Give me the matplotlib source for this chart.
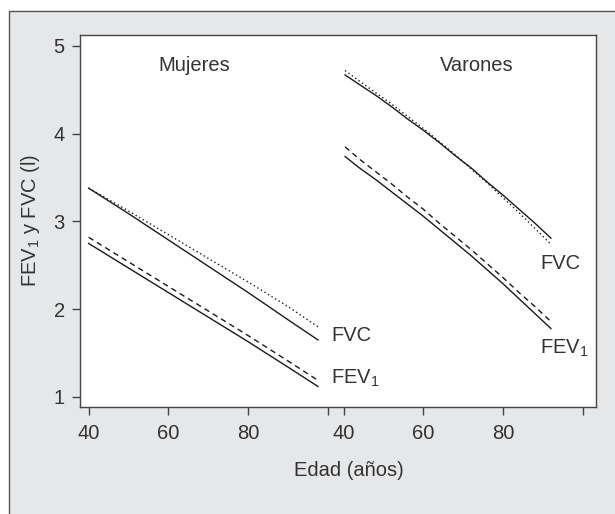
import matplotlib
matplotlib.use("Agg")
import matplotlib.pyplot as plt
from matplotlib.patches import Rectangle

plt.rcParams['font.family'] = ['Liberation Sans', 'DejaVu Sans']
plt.rcParams['mathtext.default'] = 'regular'

# ---- data ----
ages_m = [40, 50, 60, 70, 80, 90, 97.5]
fvc_m_obs = [3.38, 3.09, 2.79, 2.49, 2.19, 1.88, 1.65]   # solid
fvc_m_ref = [3.38, 3.12, 2.85, 2.58, 2.31, 2.03, 1.80]   # dotted
fev_m_ref = [2.82, 2.54, 2.26, 1.98, 1.70, 1.41, 1.19]   # dashed
fev_m_obs = [2.75, 2.47, 2.19, 1.91, 1.63, 1.34, 1.12]   # solid

ages_v = [40.4, 44, 48, 52, 56, 60, 64, 68, 72, 76, 80, 84, 88, 92]
fvc_v_obs = [4.67, 4.56, 4.44, 4.31, 4.17, 4.04, 3.90, 3.75, 3.61, 3.45, 3.30, 3.14, 2.98, 2.81]
fvc_v_ref = [4.72, 4.60, 4.47, 4.34, 4.20, 4.06, 3.91, 3.76, 3.60, 3.44, 3.27, 3.10, 2.92, 2.74]
fev_v_ref = [3.85, 3.71, 3.57, 3.43, 3.28, 3.14, 2.98, 2.83, 2.68, 2.52, 2.36, 2.19, 2.03, 1.86]
fev_v_obs = [3.74, 3.61, 3.48, 3.34, 3.20, 3.06, 2.91, 2.76, 2.61, 2.45, 2.29, 2.12, 1.95, 1.78]

tick_ages = [40, 60, 80, 100]
tick_labels = ['40', '60', '80', '']
panel_titles = ['Mujeres', 'Varones']
offset = 63.9  # horizontal shift of second panel

TXT = '#333333'
LC = '#1a1a1a'

fig = plt.figure(figsize=(6.15, 5.14), dpi=100)
fig.patch.set_facecolor('white')
# outer grey frame
fig.patches.append(Rectangle((9/615, -0.05), 1.2, 1 - 11/514 + 0.05,
                             transform=fig.transFigure, facecolor='#e6e7e9',
                             edgecolor='#555555', lw=1.0, zorder=-5))

ax = fig.add_axes([80/615, 1-407/514, 516/615, 372/514])
ax.set_zorder(2)
ax.set_facecolor('white')

lw = 1.0
xv = [a + offset for a in ages_v]
ax.plot(ages_m, fvc_m_obs, color=LC, lw=lw)
ax.plot(ages_m, fvc_m_ref, color=LC, lw=lw, linestyle=(0, (1, 2)))
ax.plot(ages_m, fev_m_ref, color=LC, lw=lw, linestyle=(0, (4, 3)))
ax.plot(ages_m, fev_m_obs, color=LC, lw=lw)
ax.plot(xv, fvc_v_obs, color=LC, lw=lw)
ax.plot(xv, fvc_v_ref, color=LC, lw=lw, linestyle=(0, (1, 2)))
ax.plot(xv, fev_v_ref, color=LC, lw=lw, linestyle=(0, (4, 3)))
ax.plot(xv, fev_v_obs, color=LC, lw=lw)

ax.set_xlim(37.84, 167.2)
ax.set_ylim(0.886, 5.125)

ticks = tick_ages + [t + offset for t in tick_ages]
ax.set_xticks(ticks)
ax.set_xticklabels(tick_labels + tick_labels)
ax.set_yticks([1, 2, 3, 4, 5])
ax.set_yticklabels(['1', '2', '3', '4', '5'])

for s in ax.spines.values():
    s.set_color('#444444')
    s.set_linewidth(1.0)
fs = 14.5
ax.tick_params(axis='both', direction='out', length=6, width=1.0,
               color='#444444', labelsize=fs, labelcolor=TXT)
ax.tick_params(axis='x', pad=6)
ax.tick_params(axis='y', pad=5)

ax.text(66.5, 4.78, panel_titles[0], fontsize=fs, color=TXT, ha='center', va='center')
ax.text(66.5 + offset + 6.8, 4.78, panel_titles[1], fontsize=fs, color=TXT, ha='center', va='center')

ax.text(100.8, 1.70, 'FVC', fontsize=fs, color=TXT, ha='left', va='center')
ax.text(100.8, 1.21, 'FEV$_{1}$', fontsize=fs, color=TXT, ha='left', va='center')
ax.text(89.3 + offset, 2.52, 'FVC', fontsize=fs, color=TXT, ha='left', va='center')
ax.text(89.3 + offset, 1.56, 'FEV$_{1}$', fontsize=fs, color=TXT, ha='left', va='center')

fig.text(349/615, 1-471/514, 'Edad (años)', fontsize=fs, color=TXT, ha='center', va='center')
fig.text(30/615, 1-220/514, 'FEV$_{1}$ y FVC (l)', fontsize=fs, color=TXT,
         ha='center', va='center', rotation=90)

fig.savefig('out.png', dpi=100, facecolor=fig.get_facecolor())
